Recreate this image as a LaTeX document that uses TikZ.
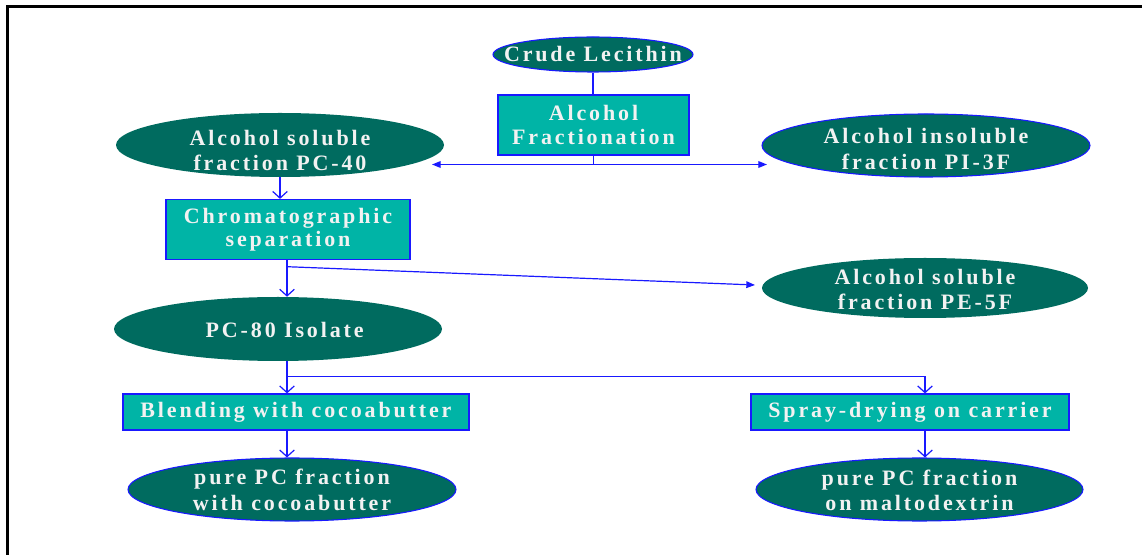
\documentclass[tikz,border=0pt]{standalone}
\usepackage{fontspec}
\newfontfamily\labfont{Liberation Serif}[LetterSpace=13]
\usetikzlibrary{shapes.geometric,arrows.meta,calc}
\definecolor{ovalfill}{RGB}{0,107,95}
\definecolor{boxfill}{RGB}{0,180,166}
\definecolor{linkblue}{RGB}{25,25,255}
\definecolor{labtext}{RGB}{242,242,242}

\begin{document}
\begin{tikzpicture}[x=0.75pt,y=-0.75pt,
  lab/.style={text=labtext, font=\labfont\bfseries\fontsize{16.5pt}{19.2pt}\selectfont,
              align=center, inner sep=0pt},
  oval/.style={ellipse, fill=ovalfill, inner sep=0pt},
  rimmed/.style={draw=linkblue, line width=0.8pt},
  stepbox/.style={rectangle, fill=boxfill, draw=linkblue, line width=0.9pt, inner sep=0pt,
              text=labtext, align=center,
              font=\labfont\bfseries\fontsize{16.5pt}{17.4pt}\selectfont},
  link/.style={draw=linkblue, line width=0.9pt},
  vee/.style={link, -{Straight Barb[length=5pt,width=11pt]}},
  tri/.style={link, -{Triangle[length=6.5pt,width=5pt]}},
]
\useasboundingbox (0,0) rectangle (1142,555);

% page frame (only its top and left edges fall inside the page)
\draw[line width=1.6pt] (7.5,600) |- (1200,6.5);

% ---- nodes ----
\node[oval, rimmed, minimum width=150pt, minimum height=26.25pt] (crude) at (593,54.5) {};
\node[lab] (crude-t) at (crude) {Crude Lecithin};

\node[stepbox, minimum width=143.25pt, minimum height=45pt] (frac) at (593.5,125)
  {Alcohol\\Fractionation};

\node[oval, minimum width=246pt, minimum height=48pt] (pc40) at (280,145) {};
\node[lab, yshift=-4pt] (pc40-t) at (pc40) {Alcohol soluble\\fraction PC-40};

\node[oval, rimmed, minimum width=246pt, minimum height=47.25pt] (pi3f) at (926,145.5) {};
\node[lab, yshift=-2.5pt] (pi3f-t) at (pi3f) {Alcohol insoluble\\fraction PI-3F};

\node[stepbox, minimum width=183pt, minimum height=45pt] (chrom) at (288,229.5)
  {Chromatographic\\separation};

\node[oval, minimum width=244.5pt, minimum height=45pt] (pe5f) at (925,288) {};
\node[lab, yshift=-1pt] (pe5f-t) at (pe5f) {Alcohol soluble\\fraction PE-5F};

\node[oval, minimum width=246pt, minimum height=48pt] (pc80) at (278,329) {};
\node[lab, xshift=5pt, yshift=-1pt] (pc80-t) at (pc80) {PC-80 Isolate};

\node[stepbox, minimum width=259.5pt, minimum height=27pt] (blend) at (296,412)
  {Blending with cocoabutter};

\node[stepbox, minimum width=238.5pt, minimum height=27pt] (spray) at (910,412)
  {Spray-drying on carrier};

\node[oval, rimmed, minimum width=246pt, minimum height=47.25pt] (outL) at (292,489.5) {};
\node[lab, yshift=-0.5pt] (outL-t) at (outL) {pure PC fraction\\with cocoabutter};

\node[oval, rimmed, minimum width=245.25pt, minimum height=47.25pt] (outR) at (919.5,489.5) {};
\node[lab, yshift=-0.5pt] (outR-t) at (outR) {pure PC fraction\\on maltodextrin};

% ---- branch points and free arrow ends ----
\coordinate (split1) at (593.5,164.5);
\coordinate (tipL) at (432,164.5);
\coordinate (tipR) at (767,164.5);
\coordinate (col) at (287,0);
\coordinate (split2) at (287,266.7);
\coordinate (tipPE) at (755,285);
\coordinate (split3) at (287,376.7);
\coordinate (sprayIn) at ($(spray.north)+(15,0)$);

% ---- connectors ----
\draw[link] (crude.south) -- (crude.south |- frac.north);
\draw[link] (frac.south) -- (split1);
\draw[link, {Triangle[length=6.5pt,width=5pt]}-{Triangle[length=6.5pt,width=5pt]}] (tipL) -- (tipR);

\draw[vee] (pc40.south) -- (pc40.south |- chrom.north);

\draw[vee] (col |- chrom.south) -- (col |- pc80.north);
\draw[tri] (split2) -- (tipPE);

\draw[vee] (col |- pc80.south) -- (col |- blend.north);
\draw[vee] (split3) -| (sprayIn);

\draw[vee] (col |- blend.south) -- (col |- outL.north);
\draw[vee] (sprayIn |- spray.south) -- (sprayIn |- outR.north);
\end{tikzpicture}
\end{document}
